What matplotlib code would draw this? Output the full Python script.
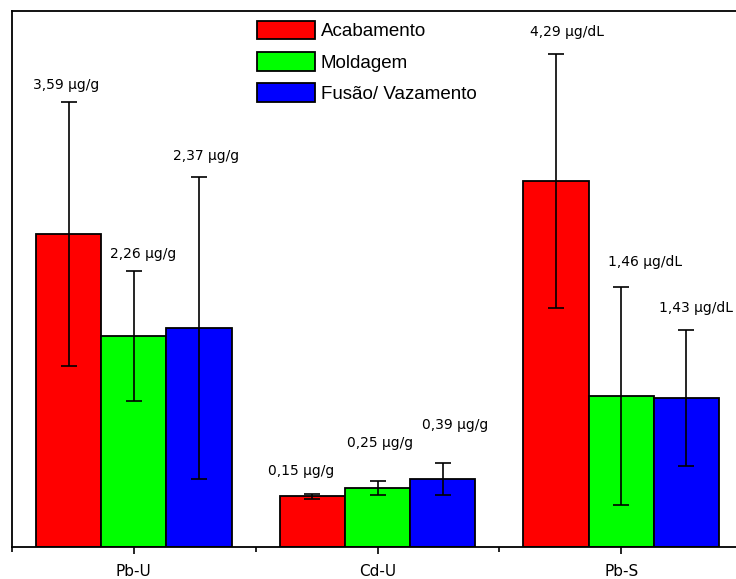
import matplotlib.pyplot as plt
import numpy as np

plt.rcParams['font.family'] = ['Liberation Sans', 'DejaVu Sans']

# categories and series
categories = ['Pb-U', 'Cd-U', 'Pb-S']
series = ['Acabamento', 'Moldagem', 'Fusão/ Vazamento']
colors = ['#ff0000', '#00ff00', '#0000ff']

# bar heights and error half-widths as drawn (arbitrary plot units)
acabamento = [3.13, 0.51, 3.66]
moldagem = [2.11, 0.59, 1.51]
fusao = [2.19, 0.68, 1.49]
acabamento_err = [1.32, 0.025, 1.27]
moldagem_err = [0.65, 0.07, 1.09]
fusao_err = [1.51, 0.16, 0.68]

# value labels written above each bar
acabamento_lbl = ['3,59 µg/g', '0,15 µg/g', '4,29 µg/dL']
moldagem_lbl = ['2,26 µg/g', '0,25 µg/g', '1,46 µg/dL']
fusao_lbl = ['2,37 µg/g', '0,39 µg/g', '1,43 µg/dL']

values = [acabamento, moldagem, fusao]
errors = [acabamento_err, moldagem_err, fusao_err]
labels = [acabamento_lbl, moldagem_lbl, fusao_lbl]

# label offsets (points) from the top of each error bar
dx = [[-2, -8, 8], [7, 2, 17], [5, 9, 7]]
dy = [[12, 16, 16], [12, 27, 18], [15, 27, 16]]

fig = plt.figure(figsize=(7.36, 5.79), dpi=100)
ax = fig.add_axes([12 / 736, 32 / 579, 731 / 736, 536 / 579])

x = np.arange(len(categories))
w = 0.268
for i, (vals, errs, col, name) in enumerate(zip(values, errors, colors, series)):
    pos = x + (i - 1) * w
    ax.bar(pos, vals, width=w, color=col, edgecolor='black', linewidth=1.3, label=name)
    ax.errorbar(pos, vals, yerr=errs, fmt='none', ecolor='black', elinewidth=1.2,
                capsize=6, capthick=1.2)
    for p, v, e, t, ox, oy in zip(pos, vals, errs, labels[i], dx[i], dy[i]):
        ax.annotate(t, (p, v + e), xytext=(ox, oy), textcoords='offset points',
                    ha='center', va='center', fontsize=10, family='DejaVu Sans')

ax.set_xlim(-0.5, 2.5)
ax.set_ylim(0, 5.36)
ax.set_yticks([])
ax.set_xticks(x)
ax.set_xticklabels(categories, fontsize=11, family='DejaVu Sans')
ax.set_xticks([-0.5, 0.5, 1.5], minor=True)
ax.tick_params(axis='x', which='major', length=5, width=1.2, pad=7)
ax.tick_params(axis='x', which='minor', length=3.5, width=1.2)
for s in ax.spines.values():
    s.set_linewidth(1.3)

ax.legend(loc='upper left', bbox_to_anchor=(0.335, 0.982), frameon=False, fontsize=13.5,
          handlelength=3.1, handleheight=1.15, labelspacing=0.62, handletextpad=0.3,
          borderaxespad=0, borderpad=0)

fig.savefig('out.png', dpi=100)
